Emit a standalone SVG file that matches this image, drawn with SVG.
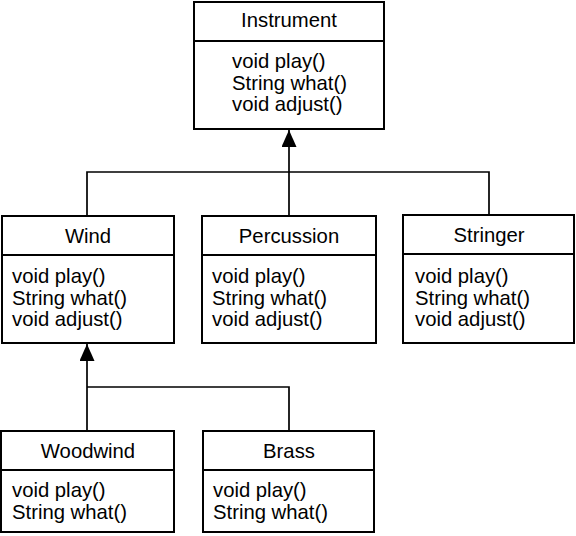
<svg xmlns="http://www.w3.org/2000/svg" width="576" height="536" viewBox="0 0 576 536">
<defs>
<style>
.box{fill:#fff;stroke:#000;stroke-width:2}
.div{stroke:#000;stroke-width:1.8}
.t{font-family:"Liberation Sans",Arial,sans-serif;font-size:20.3px;fill:#000}
.c{text-anchor:middle}
.con{fill:none;stroke:#000;stroke-width:1.7}
</style>
<marker id="tri" viewBox="0 0 17 15" refX="17" refY="7.5" markerWidth="17" markerHeight="15" markerUnits="userSpaceOnUse" orient="auto">
<path d="M0,0 L17,7.5 L0,15 Z" fill="#000"/>
</marker>
</defs>
<rect width="576" height="536" fill="#fff"/>
<g id="connectors">
<path class="con" d="M289,216 V172 M87,216 V172 H489 V215"/>
<path class="con" d="M289,172 V130" marker-end="url(#tri)"/>
<path class="con" d="M289,431 V387 H87 M87,431 V344" marker-end="url(#tri)"/>
</g>
<g id="instrument">
<rect class="box" x="194" y="2" width="190" height="127"/>
<line class="div" x1="194" y1="41" x2="384" y2="41"/>
<text class="t c" x="289" y="27">Instrument</text>
<text class="t" x="232" y="68">void play()</text>
<text class="t" x="232" y="90">String what()</text>
<text class="t" x="232" y="111">void adjust()</text>
</g>
<g id="wind">
<rect class="box" x="2" y="216" width="172" height="127"/>
<line class="div" x1="2" y1="255" x2="174" y2="255"/>
<text class="t c" x="88" y="243">Wind</text>
<text class="t" x="12" y="283">void play()</text>
<text class="t" x="12" y="305">String what()</text>
<text class="t" x="12" y="326">void adjust()</text>
</g>
<g id="percussion">
<rect class="box" x="202" y="216" width="174" height="127"/>
<line class="div" x1="202" y1="255" x2="376" y2="255"/>
<text class="t c" x="289" y="243">Percussion</text>
<text class="t" x="212" y="283">void play()</text>
<text class="t" x="212" y="305">String what()</text>
<text class="t" x="212" y="326">void adjust()</text>
</g>
<g id="stringer">
<rect class="box" x="403" y="215" width="171" height="128"/>
<line class="div" x1="403" y1="254" x2="574" y2="254"/>
<text class="t c" x="489" y="242">Stringer</text>
<text class="t" x="415" y="283">void play()</text>
<text class="t" x="415" y="305">String what()</text>
<text class="t" x="415" y="326">void adjust()</text>
</g>
<g id="woodwind">
<rect class="box" x="1" y="431" width="173" height="101"/>
<line class="div" x1="1" y1="470" x2="174" y2="470"/>
<text class="t c" x="88" y="458">Woodwind</text>
<text class="t" x="12" y="497">void play()</text>
<text class="t" x="12" y="519">String what()</text>
</g>
<g id="brass">
<rect class="box" x="203" y="431" width="171" height="101"/>
<line class="div" x1="203" y1="470" x2="374" y2="470"/>
<text class="t c" x="289" y="458">Brass</text>
<text class="t" x="213" y="497">void play()</text>
<text class="t" x="213" y="519">String what()</text>
</g>
</svg>
